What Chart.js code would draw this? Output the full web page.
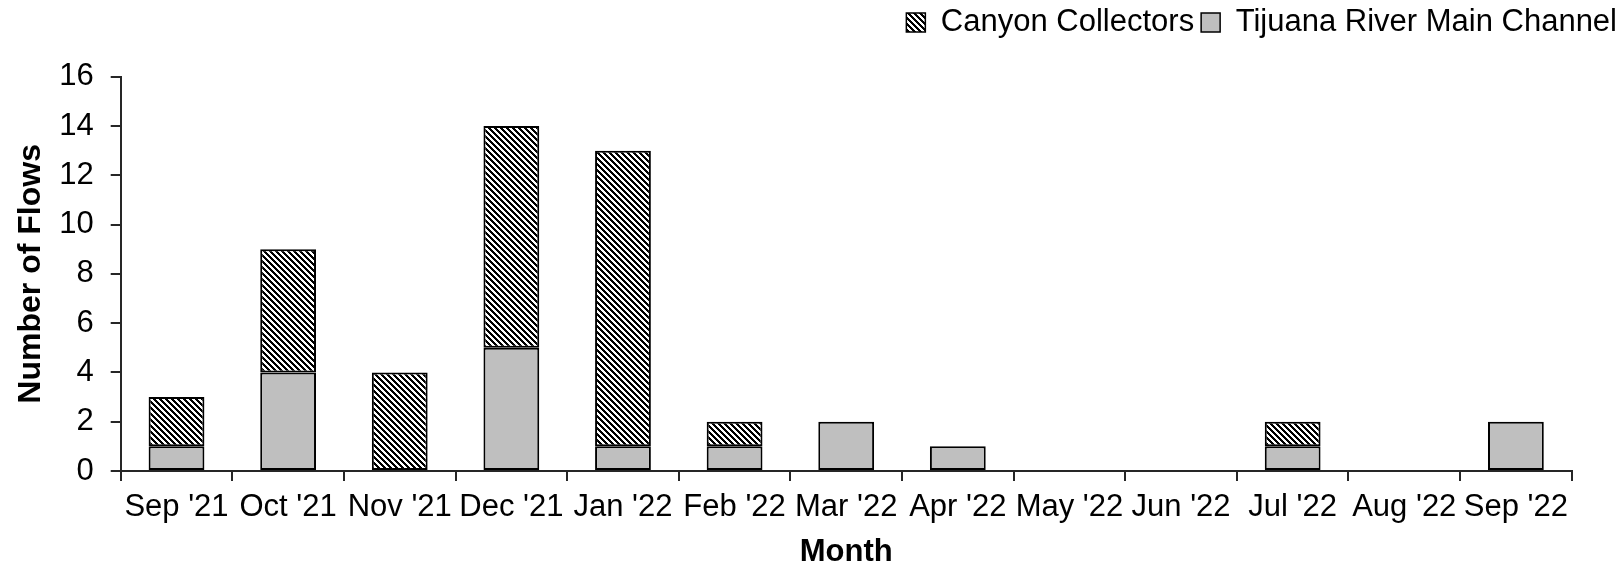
<!DOCTYPE html>
<html>
<head>
<meta charset="utf-8">
<script src="https://cdn.jsdelivr.net/npm/chart.js@4/dist/chart.umd.min.js"></script>
<style>
  html, body { margin: 0; padding: 0; background: #ffffff; }
  #wrap { width: 1624px; height: 571px; }
</style>
</head>
<body>
<div id="wrap"><canvas id="flows" width="1624" height="571"></canvas></div>
<script>
// Monthly flow counts, stacked by source
const months = ["Sep '21", "Oct '21", "Nov '21", "Dec '21", "Jan '22", "Feb '22", "Mar '22",
                "Apr '22", "May '22", "Jun '22", "Jul '22", "Aug '22", "Sep '22"];
const mainChannel = [1, 4, 0, 5, 1, 1, 2, 1, 0, 0, 1, 0, 2];
const canyonCollectors = [2, 5, 4, 9, 12, 1, 0, 0, 0, 0, 1, 0, 0];
const yMin = 0;
const yMax = 16;
const yStep = 2;

const FONT = "'Liberation Sans', Arial, Helvetica, sans-serif";

// Dense downward-diagonal hatch fill
function makeHatch() {
  const size = 6;
  const c = document.createElement('canvas');
  c.width = size; c.height = size;
  const g = c.getContext('2d');
  g.fillStyle = '#ffffff';
  g.fillRect(0, 0, size, size);
  g.fillStyle = '#000000';
  for (let y = 0; y < size; y++) {
    for (let x = 0; x < size; x++) {
      const d = ((x - y) % size + size) % size;
      if (d <= 2) g.fillRect(x, y, 1, 1);
    }
  }
  return g.createPattern(c, 'repeat');
}
const hatch = makeHatch();

const edgeWidth = (ctx) => (ctx.raw ? 2 : 0);

new Chart(document.getElementById('flows'), {
  type: 'bar',
  data: {
    labels: months,
    datasets: [
      {
        label: 'Tijuana River Main Channel',
        data: mainChannel,
        backgroundColor: '#bfbfbf',
        borderColor: '#000000',
        borderWidth: edgeWidth,
        borderSkipped: false
      },
      {
        label: 'Canyon Collectors',
        data: canyonCollectors,
        backgroundColor: hatch,
        borderColor: '#000000',
        borderWidth: edgeWidth,
        borderSkipped: false
      }
    ]
  },
  options: {
    responsive: false,
    devicePixelRatio: 1,
    animation: false,
    datasets: { bar: { barPercentage: 0.5, categoryPercentage: 1.0 } },
    layout: { padding: { left: 0, right: 0, top: 0, bottom: 0 } },
    plugins: {
      tooltip: { enabled: false },
      legend: {
        position: 'top',
        align: 'end',
        reverse: true,
        labels: {
          color: '#000000',
          font: { family: FONT, size: 31 },
          boxWidth: 19,
          boxHeight: 19,
          padding: 7,
          generateLabels: (chart) =>
            Chart.defaults.plugins.legend.labels.generateLabels(chart)
              .map(item => Object.assign(item, { lineWidth: 1.5 }))
        }
      }
    },
    scales: {
      x: {
        stacked: true,
        offset: true,
        grid: {
          offset: true,
          drawOnChartArea: false,
          drawTicks: true,
          tickLength: 10,
          color: '#262626',
          lineWidth: 2
        },
        border: { display: true, color: '#262626', width: 2 },
        ticks: {
          color: '#000000',
          font: { family: FONT, size: 31 },
          maxRotation: 0,
          autoSkip: false,
          padding: 8
        },
        title: {
          display: true,
          text: 'Month',
          color: '#000000',
          font: { family: FONT, size: 31, weight: 'bold' },
          padding: { top: 0, bottom: 0 }
        },
        afterFit(s) { s.height = 100; }
      },
      xTop: {
        type: 'category',
        position: 'top',
        display: true,
        grid: { display: false },
        border: { display: false },
        ticks: { display: false },
        afterFit(s) { s.height = 28.7; }
      },
      y: {
        stacked: true,
        min: yMin,
        max: yMax,
        grid: {
          drawOnChartArea: false,
          drawTicks: true,
          tickLength: 10,
          color: '#262626',
          lineWidth: 2
        },
        border: { display: true, color: '#262626', width: 2 },
        ticks: {
          stepSize: yStep,
          color: '#000000',
          font: { family: FONT, size: 31 },
          padding: 17
        },
        title: {
          display: true,
          text: 'Number of Flows',
          color: '#000000',
          font: { family: FONT, size: 32, weight: 'bold' },
          padding: { top: 12, bottom: 0 }
        },
        afterFit(s) { s.width = 120.7; }
      },
      yRight: {
        type: 'linear',
        position: 'right',
        display: true,
        grid: { display: false },
        border: { display: false },
        ticks: { display: false },
        afterFit(s) { s.width = 52.3; }
      }
    }
  }
});
</script>
</body>
</html>
